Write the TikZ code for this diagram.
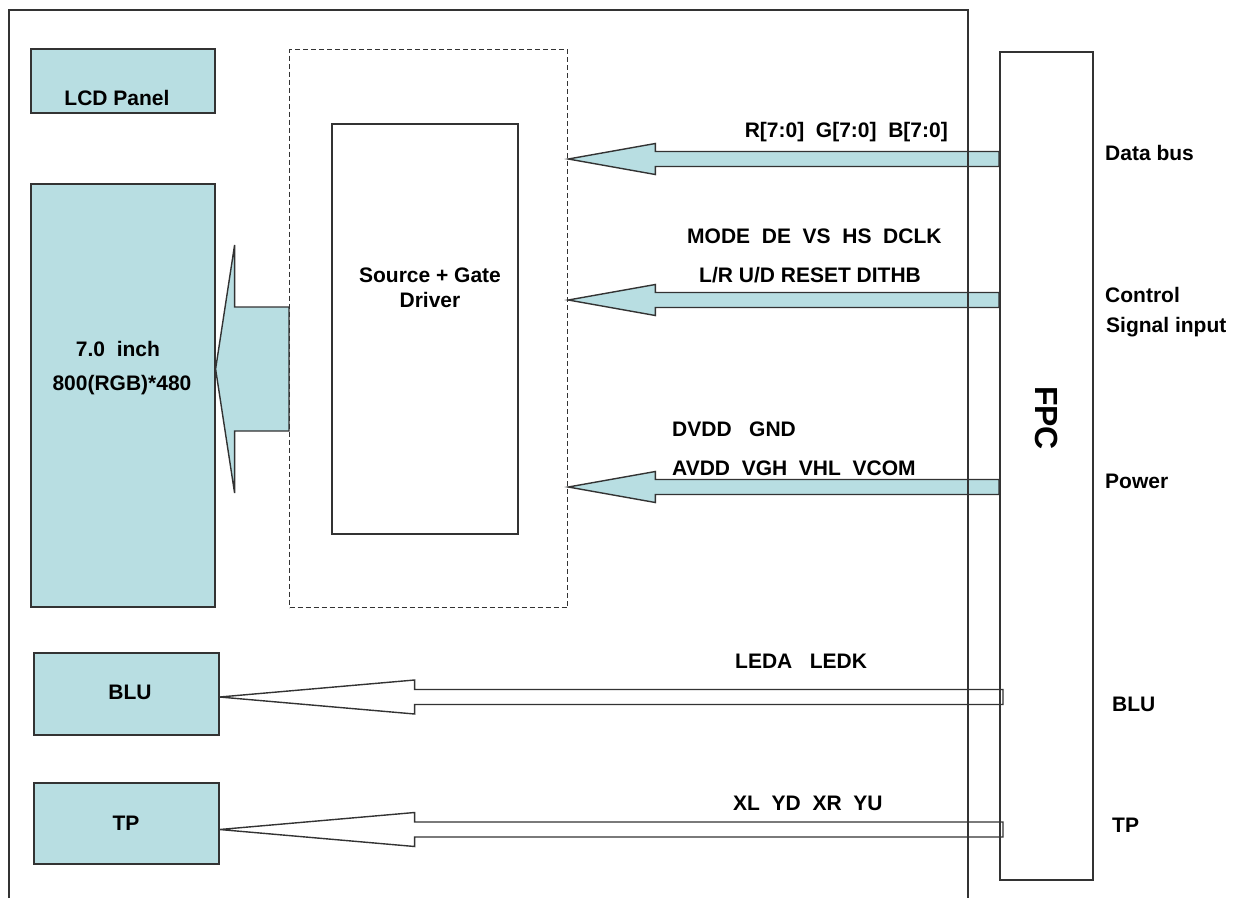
\documentclass[tikz,border=0pt]{standalone}
\usepackage{fontspec}
\setmainfont{Liberation Sans}
\usepackage{tikz}
\usetikzlibrary{calc,backgrounds}

\definecolor{panelTeal}{HTML}{B8DEE2}
\definecolor{edgeGray}{HTML}{333333}

\tikzset{
  box/.style={draw=edgeGray,line width=1.6pt,inner sep=0,minimum width=#1},
  tealbox/.style={box=#1,fill=panelTeal},
  lbl/.style={inner sep=0,font=\bfseries\fontsize{21}{24}\selectfont},
  busarrow/.style={draw=edgeGray,line width=1.4pt,fill=panelTeal,line join=miter},
  wirearrow/.style={draw=edgeGray,line width=1.4pt,fill=white}
}

\begin{document}
\begin{tikzpicture}[x=1pt,y=-1pt]
\useasboundingbox (0,0) rectangle (1240,898);

% boxes on the module side
\node[tealbox=184,minimum height=64,anchor=north west] (lcd) at (30,48) {};
\node[tealbox=184,minimum height=423,anchor=north west] (panel) at (30,183) {};
\node[tealbox=185,minimum height=82,anchor=north west] (blu) at (33,652) {};
\node[tealbox=185,minimum height=81,anchor=north west] (tp) at (33,782) {};
\node[box=278,minimum height=558,anchor=north west,dash pattern=on 5pt off 3pt,line width=1.3pt] (drv) at (289,49) {};
\node[box=186,minimum height=410,anchor=north west] (ic) at (331,123) {};
\node[box=93,minimum height=828,anchor=north west] (fpc) at (999,51) {};
\node[font=\bfseries\fontsize{32}{36}\selectfont,rotate=-90,inner sep=0] (fpctxt) at (fpc.center |- 0,418) {FPC};

% outer frame, open at the bottom
\draw[edgeGray,line width=1.6pt] (9,898) -- (9,10) -- (968,10) -- (968,898);

\begin{pgfonlayer}{background}
% driver -> panel
\filldraw[busarrow] (panel.east |- 0,369) -- ($(panel.east |- 0,369)+(19,-124)$)
  -- ($(panel.east |- 0,369)+(19,-62)$) -- (drv.west |- 0,307) -- (drv.west |- 0,431)
  -- ($(panel.east |- 0,369)+(19,62)$) -- ($(panel.east |- 0,369)+(19,124)$) -- cycle;
% fpc -> driver
\foreach \c in {159,300,487}{
  \filldraw[busarrow] (drv.east |- 0,\c) -- ($(drv.east |- 0,\c)+(87,-15.5)$)
    -- ($(drv.east |- 0,\c)+(87,-7.5)$) -- (fpc.west |- 0,\c-7.5) -- (fpc.west |- 0,\c+7.5)
    -- ($(drv.east |- 0,\c)+(87,7.5)$) -- ($(drv.east |- 0,\c)+(87,15.5)$) -- cycle;
}
% fpc -> blu / tp
\foreach \b/\c in {blu/697,tp/829.5}{
  \filldraw[wirearrow] (\b.east |- 0,\c) -- ($(\b.east |- 0,\c)+(195,-17)$)
    -- ($(\b.east |- 0,\c)+(195,-7.5)$) -- ($(fpc.west |- 0,\c-7.5)+(4,0)$)
    -- ($(fpc.west |- 0,\c+7.5)+(4,0)$)
    -- ($(\b.east |- 0,\c)+(195,7.5)$) -- ($(\b.east |- 0,\c)+(195,17)$) -- cycle;
}
\end{pgfonlayer}

% texts inside the module
\node[lbl,anchor=base] (tlcd) at (117,105) {LCD Panel};
\node[lbl,anchor=base] (tsize) at (118,356) {7.0~~inch};
\node[lbl,anchor=base] (tres) at (122,390) {800(RGB)*480};
\node[lbl,anchor=base] (tblu) at (130,699) {BLU};
\node[lbl,anchor=base] (ttp) at (126,830) {TP};
\node[lbl,anchor=base] (tic1) at (430,282) {Source + Gate};
\node[lbl,anchor=base] (tic2) at (430,307) {Driver};

% signal names over the arrows
\node[lbl,anchor=base east] (trgb) at (948,137) {R[7:0]~~G[7:0]~~B[7:0]};
\node[lbl,anchor=base west] (tctl1) at (687,243) {MODE~~DE~~VS~~HS~~DCLK};
\node[lbl,anchor=base west] (tctl2) at (699,282) {L/R U/D RESET DITHB};
\node[lbl,anchor=base west] (tpwr1) at (672,436) {DVDD~~~GND};
\node[lbl,anchor=base west] (tpwr2) at (672,475) {AVDD~~VGH~~VHL~~VCOM};
\node[lbl,anchor=base west] (tled) at (735,668) {LEDA~~~LEDK};
\node[lbl,anchor=base west] (ttch) at (733,810) {XL~~YD~~XR~~YU};

% fpc side names
\node[lbl,anchor=base west] (rdata) at (1105,160) {Data bus};
\node[lbl,anchor=base west] (rctl1) at (1105,302) {Control};
\node[lbl,anchor=base west] (rctl2) at (1106,332) {Signal input};
\node[lbl,anchor=base west] (rpwr) at (1105,488) {Power};
\node[lbl,anchor=base west] (rblu) at (1112,711) {BLU};
\node[lbl,anchor=base west] (rtp) at (1112,832) {TP};
\end{tikzpicture}
\end{document}
